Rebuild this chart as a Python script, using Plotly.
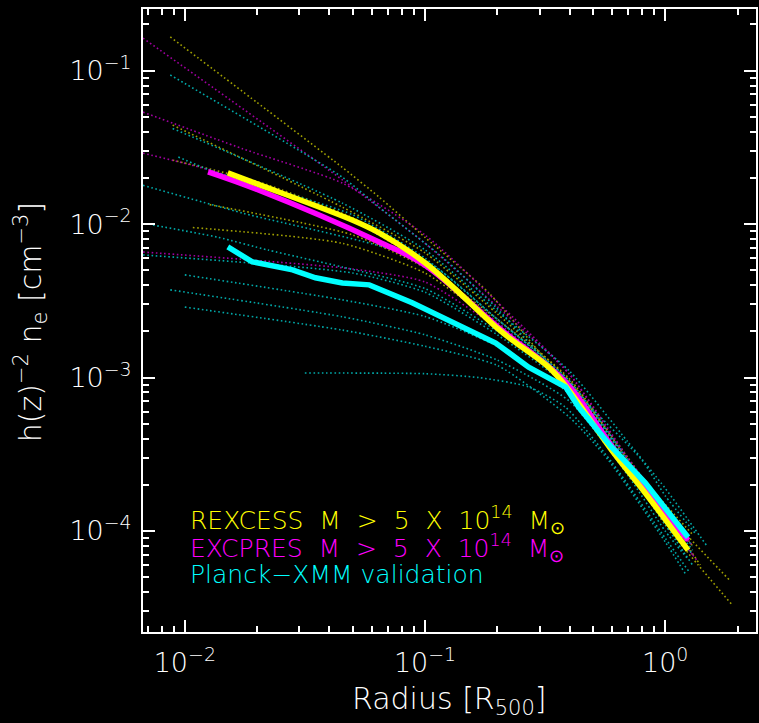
import plotly.graph_objects as go

# ---------------- mean profiles (thick lines) ----------------
rexcess_r = [0.0151, 0.02, 0.05, 0.0644, 0.1, 0.2, 0.23, 0.327, 0.388, 0.597, 0.826, 1.245]
rexcess_n = [0.0216, 0.0183, 0.0106, 0.00877, 0.0056, 0.0021, 0.00176, 0.00117, 0.00087, 0.000338, 0.000177, 7.5e-5]

excpres_r = [0.0125, 0.02, 0.0644, 0.1, 0.2, 0.388, 0.597, 0.826, 1.245]
excpres_n = [0.0219, 0.0168, 0.00766, 0.0054, 0.00215, 0.00092, 0.00036, 0.00019, 8.7e-5]

planck_r = [0.0151, 0.0191, 0.0281, 0.035, 0.0453, 0.0586, 0.0884, 0.1425, 0.197, 0.270, 0.318,
            0.333, 0.385, 0.436, 0.597, 0.826, 1.245]
planck_n = [0.0071, 0.00568, 0.00504, 0.00447, 0.00414, 0.00402, 0.00307, 0.00214, 0.00168, 0.00117,
            0.00101, 0.00097, 0.000867, 0.000643, 0.000353, 0.000206, 9.1e-5]

# ---------------- individual cluster profiles (dotted) ----------------
rexcess_ind_r = [
    [0.0087, 0.02, 0.045, 0.0644, 0.1, 0.1845, 0.318, 0.5, 0.8, 1.3],
    [0.0089, 0.0453, 0.1, 0.2, 0.4, 0.7, 1.0, 1.4],
    [0.0089, 0.02, 0.05, 0.1, 0.2, 0.4, 0.7, 1.0, 1.9],
    [0.0108, 0.0453, 0.1, 0.2, 0.4, 0.7, 1.0, 1.85],
    [0.0127, 0.05, 0.1, 0.2, 0.4, 0.7, 1.3],
]
rexcess_ind_n = [
    [0.166, 0.062, 0.0236, 0.015, 0.0082, 0.00356, 0.0013, 0.00052, 0.00022, 9.5e-5],
    [0.0442, 0.0129, 0.0065, 0.0026, 0.00095, 0.00028, 0.00013, 6e-5],
    [0.0261, 0.019, 0.011, 0.0058, 0.0022, 0.00088, 0.00026, 0.00011, 3.3e-5],
    [0.0095, 0.0075, 0.0048, 0.0022, 0.00092, 0.0003, 0.000135, 4.8e-5],
    [0.0134, 0.0085, 0.0052, 0.0024, 0.00098, 0.00029, 8e-5],
]

excpres_ind_r = [
    [0.0067, 0.0453, 0.1, 0.2, 0.4, 0.7, 1.0, 1.3],
    [0.0067, 0.0174, 0.0453, 0.1, 0.2, 0.4, 0.7, 1.0, 1.25],
    [0.0067, 0.0127, 0.05, 0.1, 0.2, 0.4, 0.7, 1.0, 1.3],
    [0.0067, 0.02, 0.05, 0.1, 0.2, 0.4, 0.7, 1.0, 1.35],
]
excpres_ind_n = [
    [0.163, 0.0194, 0.0075, 0.0029, 0.00105, 0.0003, 0.00014, 8e-5],
    [0.0537, 0.031, 0.0185, 0.0085, 0.0031, 0.00105, 0.00029, 0.00013, 8.5e-5],
    [0.029, 0.0225, 0.0105, 0.0055, 0.0023, 0.0009, 0.00026, 0.00012, 7e-5],
    [0.00658, 0.0058, 0.0051, 0.0042, 0.0021, 0.00088, 0.00027, 0.00012, 6.5e-5],
]

planck_ind_r = [
    [0.0087, 0.0453, 0.0644, 0.122, 0.197, 0.297, 0.5, 0.8, 1.0, 1.33],
    [0.0089, 0.0453, 0.1, 0.2, 0.4, 0.7, 1.0, 1.5],
    [0.0067, 0.0174, 0.1, 0.2, 0.4, 0.7, 1.0, 1.3],
    [0.0094, 0.0127, 0.05, 0.1, 0.2, 0.4, 0.7, 1.0, 1.3],
    [0.00737, 0.0137, 0.0222, 0.0453, 0.1, 0.2, 0.4, 0.7, 1.0, 1.3],
    [0.0067, 0.05, 0.1, 0.2, 0.4, 0.7, 1.0, 1.25],
    [0.01, 0.0453, 0.1, 0.2, 0.4, 0.7, 1.0, 1.3],
    [0.0087, 0.0453, 0.1, 0.2, 0.4, 0.7, 1.0, 1.25],
    [0.01, 0.0453, 0.1, 0.2, 0.4, 0.58, 1.0, 1.21],
    [0.0316, 0.1, 0.1675, 0.27, 0.385, 0.6, 1.0, 1.25],
]
planck_ind_n = [
    [0.0937, 0.0202, 0.0129, 0.00583, 0.00288, 0.00145, 0.00062, 0.00029, 0.00017, 9.7e-5],
    [0.042, 0.0137, 0.0068, 0.0027, 0.0011, 0.00038, 0.00019, 7.9e-5],
    [0.0179, 0.0118, 0.0058, 0.0024, 0.00093, 0.00028, 0.00013, 7.5e-5],
    [0.0274, 0.0225, 0.0115, 0.006, 0.0024, 0.00095, 0.00029, 0.00013, 8e-5],
    [0.00986, 0.00822, 0.00678, 0.00525, 0.0038, 0.002, 0.0009, 0.00028, 0.00013, 7e-5],
    [0.0063, 0.0048, 0.0036, 0.0019, 0.00085, 0.00026, 0.00012, 7.5e-5],
    [0.00467, 0.00321, 0.0025, 0.0016, 0.00078, 0.00025, 0.00011, 6e-5],
    [0.00373, 0.00249, 0.0019, 0.0013, 0.0007, 0.00023, 0.0001, 6.5e-5],
    [0.00288, 0.00204, 0.0016, 0.0012, 0.00055, 0.00029, 8.5e-5, 5.3e-5],
    [0.00107, 0.00106, 0.001, 0.00087, 0.00064, 0.00028, 9e-5, 5.5e-5],
]

x_ticks = [0.01, 0.1, 1]
x_ticktext = ["10<sup>−2</sup>", "10<sup>−1</sup>", "10<sup>0</sup>"]
y_ticks = [1e-4, 1e-3, 1e-2, 1e-1]
y_ticktext = ["10<sup>−4</sup>", "10<sup>−3</sup>", "10<sup>−2</sup>", "10<sup>−1</sup>"]

SP = "\u00a0\u00a0"
legend_labels = [
    f"REXCESS{SP}M{SP}>{SP}5{SP}X{SP}10<sup>14</sup>{SP}M<sub>⊙</sub>",
    f"EXCPRES{SP}M{SP}>{SP}5{SP}X{SP}10<sup>14</sup>{SP}M<sub>⊙</sub>",
    "Planck−XMM validation",
]

YEL, MAG, CYA = "#ffff00", "#ff00ff", "#00ffff"
YEL_D, MAG_D, CYA_D = "#a0a000", "#a000a0", "#00a8a8"

fig = go.Figure()

for rs, ns, col in [(rexcess_ind_r, rexcess_ind_n, YEL_D),
                    (excpres_ind_r, excpres_ind_n, MAG_D),
                    (planck_ind_r, planck_ind_n, CYA_D)]:
    for r, n in zip(rs, ns):
        fig.add_trace(go.Scatter(x=r, y=n, mode="lines", showlegend=False,
                                 line=dict(color=col, width=1.6, dash="1.6px,2.6px", shape="spline",
                                           smoothing=0.6)))

for r, n, col, shp in [(excpres_r, excpres_n, MAG, "spline"), (rexcess_r, rexcess_n, YEL, "spline"),
                       (planck_r, planck_n, CYA, "linear")]:
    fig.add_trace(go.Scatter(x=r, y=n, mode="lines", showlegend=False,
                             line=dict(color=col, width=5.5, shape=shp)))

FONT = "DejaVu Sans"
axis_common = dict(
    type="log", showline=True, linecolor="white", linewidth=2, mirror="ticks",
    ticks="inside", ticklen=12, tickwidth=2, tickcolor="white",
    showgrid=False, zeroline=False,
    tickfont=dict(color="white", size=27, family=FONT, weight=300),
)

fig.update_xaxes(range=[-2.174, 0.378], tickvals=x_ticks, ticktext=x_ticktext,
                 ticklabelstandoff=6,
                 minor=dict(ticks="inside", ticklen=6, tickwidth=2, tickcolor="white",
                            tickvals=[0.007, 0.008, 0.009] + [k / 100 for k in range(2, 10)]
                            + [k / 10 for k in range(2, 10)] + [2]),
                 **axis_common)
fig.update_yaxes(range=[-4.658, -0.598], tickvals=y_ticks, ticktext=y_ticktext,
                 ticklabelstandoff=4,
                 minor=dict(ticks="inside", ticklen=6, tickwidth=2, tickcolor="white",
                            tickvals=[k * 1e-5 for k in range(3, 10)] + [k * 1e-4 for k in range(2, 10)]
                            + [k * 1e-3 for k in range(2, 10)] + [k * 1e-2 for k in range(2, 10)] + [0.2]),
                 **axis_common)

annotations = [
    dict(text="Radius [R<sub>500</sub>]", x=0.5, y=-0.11, xref="paper", yref="paper",
         xanchor="center", yanchor="middle", showarrow=False,
         font=dict(color="white", size=30, family=FONT, weight=300)),
    dict(text="h(z)<sup>−2</sup> n<sub>e</sub> [cm<sup>−3</sup>]", x=-0.183, y=0.497,
         xref="paper", yref="paper", xanchor="center", yanchor="middle", textangle=-90,
         showarrow=False, font=dict(color="white", size=30, family=FONT, weight=300)),
]
for lab, col, yy in zip(legend_labels, [YEL, MAG, CYA], [0.18, 0.135, 0.0915]):
    annotations.append(dict(text=lab, x=0.073, y=yy, xref="paper", yref="paper",
                            xanchor="left", yanchor="middle", showarrow=False,
                            font=dict(color=col, size=25, family=FONT, weight=300)))

fig.update_layout(
    width=759, height=723,
    margin=dict(l=143, r=1, t=9, b=91),
    paper_bgcolor="black", plot_bgcolor="black",
    annotations=annotations,
    showlegend=False,
)

post = ("document.documentElement.style.margin='0';document.body.style.margin='0';"
        "document.body.style.padding='0';document.body.style.overflow='hidden';"
        "document.documentElement.style.overflow='hidden';document.body.style.background='black';")

fig.write_html("out.html", post_script=post, config={"responsive": False, "displayModeBar": False})
